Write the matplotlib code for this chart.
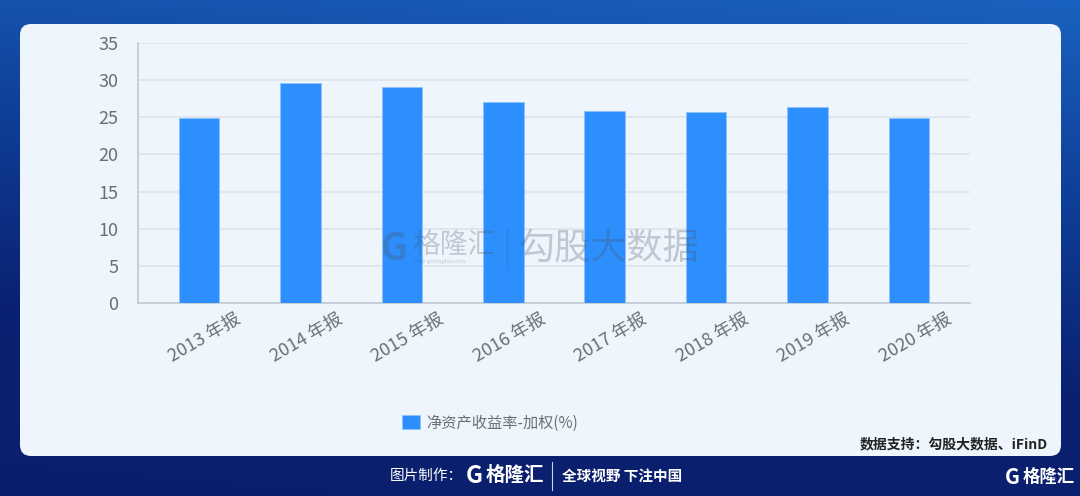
import matplotlib.pyplot as plt
import matplotlib.transforms as mtransforms
import numpy as np
from matplotlib.patches import FancyBboxPatch
from matplotlib.colors import LinearSegmentedColormap

plt.rcParams['font.family'] = ['Noto Sans CJK SC', 'DejaVu Sans']

# 数据
categories = ['2013 年报', '2014 年报', '2015 年报', '2016 年报',
              '2017 年报', '2018 年报', '2019 年报', '2020 年报']
roe = [24.9, 29.6, 29.1, 27.0, 25.9, 25.7, 26.4, 24.9]
yticks = [0, 5, 10, 15, 20, 25, 30, 35]
series_name = '净资产收益率-加权(%)'
source_text = '数据支持：勾股大数据、iFinD'

W, H = 1080, 496
fig = plt.figure(figsize=(W / 100, H / 100), dpi=100)

# 背景渐变 + 面板
bg = fig.add_axes([0, 0, 1, 1])
bg.set_xlim(0, W)
bg.set_ylim(H, 0)
bg.axis('off')
cmap = LinearSegmentedColormap.from_list('bgc', ['#1a62bf', '#0f3f98', '#0a2272', '#0a1f6c'])
yy, xx = np.mgrid[0:1:200j, 0:1:300j]
grad = yy * 0.85 + (1 - xx) * 0.15
bg.imshow(grad, cmap=cmap, extent=[0, W, H, 0], aspect='auto', zorder=0)
panel = FancyBboxPatch((20, 24), 1041, 432, boxstyle='round,pad=0,rounding_size=11',
                       facecolor='#eef5fd', edgecolor='none', zorder=1)
bg.add_patch(panel)

# 来源 + 底部
bg.text(1048, 444, source_text, fontsize=10, color='#222222', fontweight='bold',
        ha='right', va='center', zorder=3)
bg.text(390, 476, '图片制作：', fontsize=10.5, color='white', ha='left', va='center', zorder=3)
bg.text(466, 476, 'G', fontsize=17, fontweight='bold', color='white', ha='left', va='center', zorder=3)
bg.text(486, 475, '格隆汇', fontsize=14, fontweight='bold', color='white', ha='left', va='center', zorder=3)
bg.plot([552, 552], [462, 490], color='white', lw=0.8, alpha=0.8, zorder=3)
bg.text(562, 476, '全球视野 下注中国', fontsize=10.5, fontweight='bold', color='white',
        ha='left', va='center', zorder=3)
bg.text(1005, 478, 'G', fontsize=15, fontweight='bold', color='white', ha='left', va='center', zorder=3)
bg.text(1023, 477, '格隆汇', fontsize=12.5, fontweight='bold', color='white', ha='left', va='center', zorder=3)

# 柱状图
ax = fig.add_axes([138 / W, 1 - 303 / H, 832 / W, 260 / H])
ax.set_facecolor('none')
x = np.arange(len(categories))
ax.bar(x, roe, width=0.4, color='#2d8ffd', edgecolor='#8cc2ff', linewidth=0.6,
       zorder=3, label=series_name)
ax.set_xlim(-0.6, len(categories) - 0.4)
ax.set_ylim(0, 35)
ax.set_yticks(yticks)
ax.grid(axis='y', color='#dce3ec', linewidth=1.2, zorder=0)
for s in ['top', 'right']:
    ax.spines[s].set_visible(False)
for s in ['left', 'bottom']:
    ax.spines[s].set_color('#c3c8d0')
    ax.spines[s].set_linewidth(1.2)
ax.tick_params(axis='y', length=0, pad=14, labelsize=13, labelcolor='#6b6e75')
ax.tick_params(axis='x', length=0, pad=5, labelsize=13, labelcolor='#6b6e75')
ax.set_xticks(x)
ax.set_xticklabels(categories, rotation=30, ha='center')
shift = mtransforms.ScaledTranslation(6 / 100, 0, fig.dpi_scale_trans)
for lbl in ax.get_xticklabels():
    lbl.set_transform(lbl.get_transform() + shift)

fig.legend(loc='center', bbox_to_anchor=(490 / W, 1 - 423 / H), frameon=False,
           fontsize=11, labelcolor='#6b6e75', handlelength=1.2, handleheight=1.0,
           handletextpad=0.4)

# 水印（覆盖在柱子上方）
wm = fig.add_axes([0, 0, 1, 1], zorder=10)
wm.set_xlim(0, W)
wm.set_ylim(H, 0)
wm.axis('off')
wm_color = '#4a5160'
wm.text(381, 249, 'G', fontsize=27, fontweight='bold', color=wm_color, alpha=0.27,
        ha='left', va='center')
wm.text(412, 245, '格隆汇', fontsize=20, color=wm_color, alpha=0.27,
        ha='left', va='center')
wm.text(413, 262, 'www.gelonghui.com', fontsize=4, color=wm_color, alpha=0.27,
        ha='left', va='center')
wm.plot([507, 507], [228, 268], color=wm_color, alpha=0.22, lw=1)
wm.text(518, 249, '勾股大数据', fontsize=26, color=wm_color, alpha=0.28,
        ha='left', va='center')

fig.savefig('out.png', dpi=100)
